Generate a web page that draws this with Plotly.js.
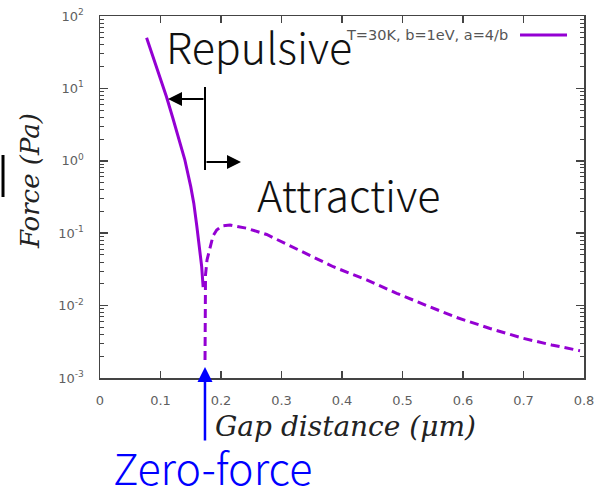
<!DOCTYPE html>
<html>
<head>
<meta charset="utf-8">
<script src="https://cdn.plot.ly/plotly-3.0.1.min.js"></script>
<style>html,body{margin:0;padding:0;background:#fff;}#chart{width:601px;height:487px;}</style>
</head>
<body>
<div id="chart"></div>
<script>
// Repulsive branch (solid), gap distance in µm, |force| in Pa
const repX = [0.077, 0.090, 0.100, 0.110, 0.120, 0.130, 0.140, 0.150, 0.155, 0.160, 0.165, 0.168, 0.1705];
const repY = [50, 23.9, 13.5, 7.6, 4.0, 2.1, 1.05, 0.44, 0.26, 0.126, 0.056, 0.035, 0.018];
// Attractive branch (dashed)
const attX = [0.1736, 0.1736, 0.1744, 0.1769, 0.1818, 0.1868, 0.1929, 0.2017, 0.2149, 0.2425, 0.2755, 0.3306, 0.3856, 0.4408, 0.4904, 0.5400, 0.5896, 0.6446, 0.6997, 0.7466, 0.7934];
const attY = [0.00177, 0.0119, 0.0265, 0.0427, 0.065, 0.0914, 0.111, 0.1257, 0.1297, 0.117, 0.0959, 0.0568, 0.0344, 0.0226, 0.0148, 0.0100, 0.00685, 0.00483, 0.00353, 0.00286, 0.00238];
const xTicks = [0, 0.1, 0.2, 0.3, 0.4, 0.5, 0.6, 0.7, 0.8];
const xTickText = ['0', '0.1', '0.2', '0.3', '0.4', '0.5', '0.6', '0.7', '0.8'];
const yTicks = [1e-3, 1e-2, 1e-1, 1, 10, 100];
const yTickText = ['10<sup>-3</sup>', '10<sup>-2</sup>', '10<sup>-1</sup>', '10<sup>0</sup>', '10<sup>1</sup>', '10<sup>2</sup>'];
const legendLabel = 'T=30K, b=1eV, a=4/b';

const purple = '#9400D3';
const tickFont = {family: 'DejaVu Sans', size: 13, color: '#5f5f5f'};
const bigFont = {family: 'Noto Sans CJK JP', size: 43, color: '#111', weight: 300};

const traces = [
  {x: repX, y: repY, mode: 'lines', line: {color: purple, width: 3}, showlegend: false, name: legendLabel},
  {x: attX, y: attY, mode: 'lines', line: {color: purple, width: 3, dash: '9px,5px'}, showlegend: false}
];

const layout = {
  width: 601, height: 487,
  margin: {l: 100, r: 17, t: 16, b: 109, pad: 0},
  paper_bgcolor: '#fff', plot_bgcolor: '#fff',
  xaxis: {
    range: [0, 0.8], tickvals: xTicks, ticktext: xTickText,
    ticks: 'inside', ticklen: 7, tickwidth: 1.5, tickcolor: '#444',
    showline: true, linecolor: '#444', linewidth: 1.5, mirror: 'ticks',
    showgrid: false, zeroline: false, tickfont: tickFont, ticklabelstandoff: 10
  },
  yaxis: {
    type: 'log', range: [-3, 2], tickvals: yTicks, ticktext: yTickText,
    ticks: 'inside', ticklen: 8, tickwidth: 1.5, tickcolor: '#444',
    minor: {ticks: 'inside', ticklen: 4, tickwidth: 1, tickcolor: '#444', dtick: 'D1', showgrid: false},
    showline: true, linecolor: '#444', linewidth: 1.5, mirror: 'ticks',
    showgrid: false, zeroline: false, tickfont: tickFont, ticklabelstandoff: 12
  },
  shapes: [
    {type: 'line', xref: 'paper', yref: 'paper', x0: 0.2169, x1: 0.2169, y0: 0.8039, y1: 0.5746, line: {color: '#000', width: 2}},
    {type: 'line', xref: 'paper', yref: 'paper', x0: 0.8678, x1: 0.9649, y0: 0.9475, y1: 0.9475, line: {color: purple, width: 3}},
    {type: 'line', xref: 'paper', yref: 'paper', x0: -0.2004, x1: -0.2004, y0: 0.616, y1: 0.5, line: {color: '#000', width: 3}}
  ],
  annotations: [
    {xref: 'paper', yref: 'paper', x: 0.3285, y: 0.92, text: 'Repulsive', showarrow: false, xanchor: 'center', yanchor: 'middle', font: bigFont},
    {xref: 'paper', yref: 'paper', x: 0.5134, y: 0.51, text: 'Attractive', showarrow: false, xanchor: 'center', yanchor: 'middle', font: bigFont},
    {xref: 'paper', yref: 'paper', x: 0.2324, y: -0.243, text: 'Zero-force', showarrow: false, xanchor: 'center', yanchor: 'middle', font: {family: 'Noto Sans CJK JP', size: 43, color: '#0000ff', weight: 300}},
    {xref: 'paper', yref: 'paper', x: 0.8471, y: 0.9475, text: legendLabel, showarrow: false, xanchor: 'right', yanchor: 'middle', font: {family: 'DejaVu Sans', size: 14.5, color: '#555'}},
    {xref: 'paper', yref: 'paper', x: -0.1446, y: 0.544, text: 'Force (Pa)', textangle: -90, showarrow: false, xanchor: 'center', yanchor: 'middle', font: {family: 'DejaVu Serif', size: 26, color: '#222', style: 'italic'}},
    {xref: 'paper', yref: 'paper', x: 0.508, y: -0.135, text: 'Gap distance (μm)', showarrow: false, xanchor: 'center', yanchor: 'middle', font: {family: 'DejaVu Serif', size: 28, color: '#222', style: 'italic'}},
    {xref: 'paper', yref: 'paper', x: 0.1405, y: 0.7707, ax: 37, ay: 0, text: '', showarrow: true, arrowhead: 2, arrowsize: 1.4, arrowwidth: 2, arrowcolor: '#000', standoff: 0},
    {xref: 'paper', yref: 'paper', x: 0.2913, y: 0.5967, ax: -36, ay: 0, text: '', showarrow: true, arrowhead: 2, arrowsize: 1.4, arrowwidth: 2, arrowcolor: '#000', standoff: 0},
    {xref: 'paper', yref: 'paper', x: 0.2169, y: 0.0304, ax: 0, ay: 75, text: '', showarrow: true, arrowhead: 2, arrowsize: 1.2, arrowwidth: 2.5, arrowcolor: '#0000ff', standoff: 0}
  ]
};

Plotly.newPlot('chart', traces, layout, {displayModeBar: false, staticPlot: true});
</script>
</body>
</html>
